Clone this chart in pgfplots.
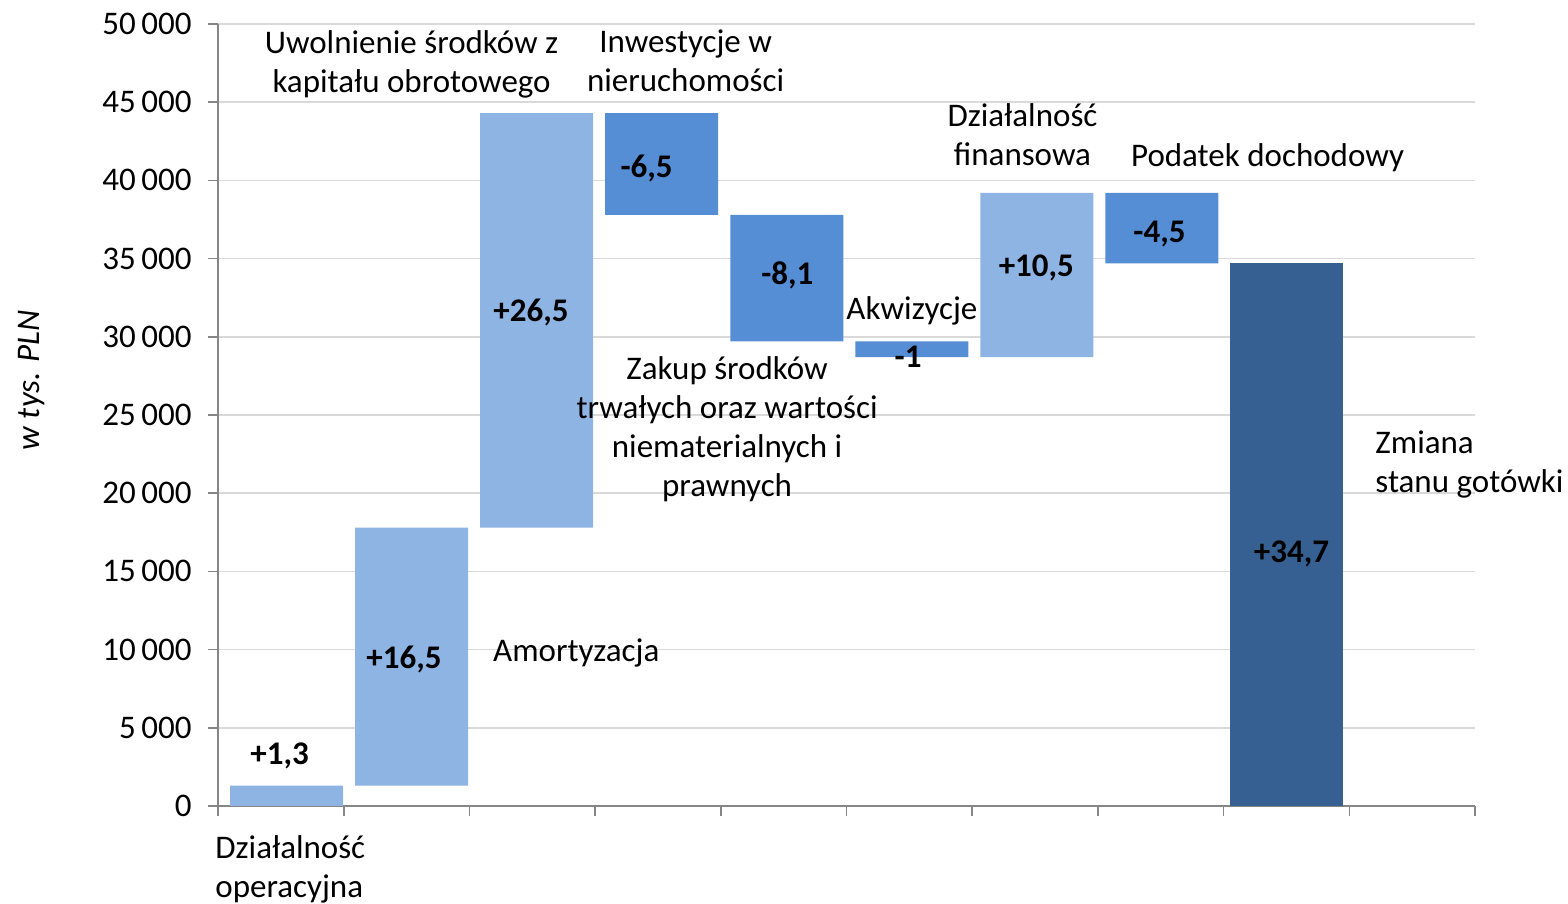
\documentclass[border=0pt]{standalone}
\usepackage{pgfplots}
\pgfplotsset{compat=1.18}
\usepackage{fontspec}
\setmainfont{Carlito}
\definecolor{cLight}{RGB}{141,180,226}
\definecolor{cMed}{RGB}{85,142,213}
\definecolor{cDark}{RGB}{55,96,146}
\definecolor{cGrid}{RGB}{217,217,217}
\definecolor{cAxis}{RGB}{134,134,134}
\begin{document}
\fontsize{16.5}{19.6}\selectfont
\begin{tikzpicture}
\begin{axis}[
  scale only axis,
  width=628.5pt, height=391pt,
  xmin=0, xmax=10, ymin=0, ymax=50000,
  ybar stacked, bar width=56.5pt,
  axis x line*=bottom, axis y line*=left,
  axis line style={draw=cAxis, line width=0.8pt, -},
  xtick={0,1,...,10}, xticklabels={},
  ytick={0,5000,...,50000},
  tick align=outside, major tick length=5pt,
  tick style={draw=cAxis, line width=0.8pt},
  ymajorgrids, grid style={draw=cGrid, line width=0.8pt},
  /pgf/number format/assume math mode=true,
  /pgf/number format/1000 sep={\,},
  scaled y ticks=false,
  yticklabel style={xshift=-2.5pt},
  clip=false,
]
\addplot[draw=none, fill=none] coordinates {(0.545,0) (1.540,1300) (2.535,17800) (3.530,37800) (4.525,29700) (5.520,28700) (6.514,28700) (7.509,34700) (8.504,0)};
\addplot[draw=none, fill=cLight] coordinates {(0.545,1300) (1.540,16500) (2.535,26500) (3.530,0) (4.525,0) (5.520,0) (6.514,10500) (7.509,0) (8.504,0)};
\addplot[draw=none, fill=cMed] coordinates {(0.545,0) (1.540,0) (2.535,0) (3.530,6500) (4.525,8100) (5.520,1000) (6.514,0) (7.509,4500) (8.504,0)};
\addplot[draw=none, fill=cDark] coordinates {(0.545,0) (1.540,0) (2.535,0) (3.530,0) (4.525,0) (5.520,0) (6.514,0) (7.509,0) (8.504,34700)};
% anchor points for labels
\coordinate (v1) at (axis cs:0.49,3325);
\coordinate (v2) at (axis cs:1.48,9527);
\coordinate (v3) at (axis cs:2.49,31714);
\coordinate (v4) at (axis cs:3.41,40921);
\coordinate (v5) at (axis cs:4.53,34079);
\coordinate (v6) at (axis cs:5.49,28900);
\coordinate (v7) at (axis cs:6.51,34527);
\coordinate (v8) at (axis cs:7.49,36700);
\coordinate (v9) at (axis cs:8.54,16240);
\coordinate (c1) at (axis cs:1.54,47570);
\coordinate (c2) at (axis cs:3.72,47826);
\coordinate (c3) at (axis cs:6.40,43095);
\coordinate (c4) at (axis cs:8.35,41624);
\coordinate (c5) at (axis cs:5.52,31841);
\coordinate (c6) at (axis cs:4.05,24233);
\coordinate (c7) at (axis cs:2.85,9910);
\coordinate (c8) at (axis cs:9.205,21995);
\coordinate (c9) at (axis cs:-0.024,-3900);
\coordinate (yl) at (axis cs:-1.48,27238);
\coordinate (O) at (rel axis cs:0,0);
\end{axis}
\begin{scope}[every node/.append style={yshift=-1.2pt}]
\node[font=\bfseries] at (v1) {+1,3};
\node[font=\bfseries] at (v2) {+16,5};
\node[font=\bfseries] at (v3) {+26,5};
\node[font=\bfseries] at (v4) {-6,5};
\node[font=\bfseries] at (v5) {-8,1};
\node[font=\bfseries] at (v6) {-1};
\node[font=\bfseries] at (v7) {+10,5};
\node[font=\bfseries] at (v8) {-4,5};
\node[font=\bfseries] at (v9) {+34,7};
\node[align=center] at (c1) {Uwolnienie środków z\\kapitału obrotowego};
\node[align=center] at (c2) {Inwestycje w\\nieruchomości};
\node[align=center] at (c3) {Działalność\\finansowa};
\node at (c4) {Podatek dochodowy};
\node at (c5) {Akwizycje};
\node[align=center] at (c6) {Zakup środków\\trwałych oraz wartości\\niematerialnych i\\prawnych};
\node at (c7) {Amortyzacja};
\node[align=left, anchor=west, inner sep=0pt] at (c8) {Zmiana\\stanu gotówki};
\node[align=left, anchor=west, inner sep=0pt] at (c9) {Działalność\\operacyjna};
\end{scope}
\node[rotate=90, font=\itshape] at (yl) {w tys. PLN};
\pgfresetboundingbox
\path (O) ++(-109pt,-49pt) rectangle ++(784pt,452pt);
\end{tikzpicture}
\end{document}
